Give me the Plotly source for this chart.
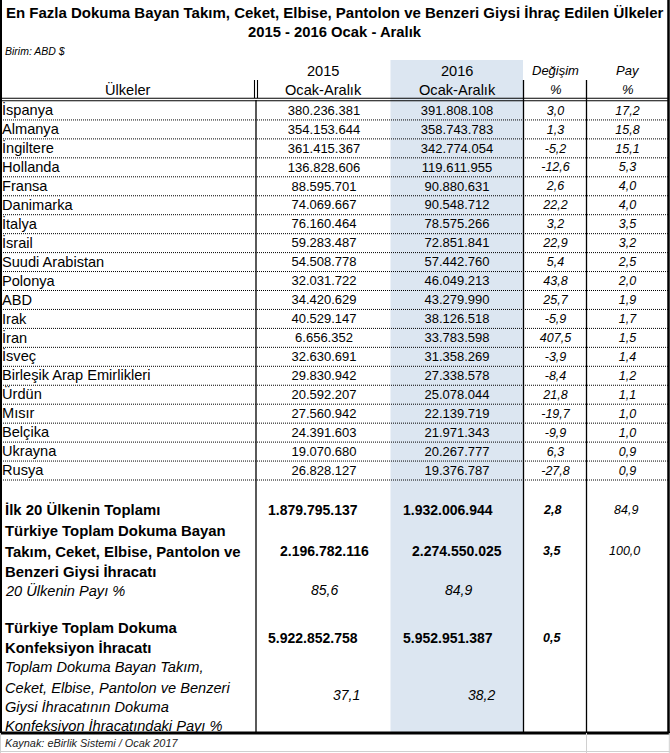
import plotly.graph_objects as go

# ---------------- data ----------------
title_line1 = "En Fazla Dokuma Bayan Takım, Ceket, Elbise, Pantolon ve Benzeri Giysi İhraç Edilen Ülkeler"
title_line2 = "2015 - 2016 Ocak - Aralık"
unit_note = "Birim: ABD $"
source_note = "Kaynak: eBirlik Sistemi / Ocak 2017"

countries = ["İspanya", "Almanya", "İngiltere", "Hollanda", "Fransa", "Danimarka", "İtalya",
             "İsrail", "Suudi Arabistan", "Polonya", "ABD", "Irak", "İran", "İsveç",
             "Birleşik Arap Emirlikleri", "Ürdün", "Mısır", "Belçika", "Ukrayna", "Rusya"]
exports_2015 = [380236381, 354153644, 361415367, 136828606, 88595701, 74069667, 76160464,
                59283487, 54508778, 32031722, 34420629, 40529147, 6656352, 32630691,
                29830942, 20592207, 27560942, 24391603, 19070680, 26828127]
exports_2016 = [391808108, 358743783, 342774054, 119611955, 90880631, 90548712, 78575266,
                72851841, 57442760, 46049213, 43279990, 38126518, 33783598, 31358269,
                27338578, 25078044, 22139719, 21971343, 20267777, 19376787]
change_pct = [3.0, 1.3, -5.2, -12.6, 2.6, 22.2, 3.2, 22.9, 5.4, 43.8,
              25.7, -5.9, 407.5, -3.9, -8.4, 21.8, -19.7, -9.9, 6.3, -27.8]
share_pct = [17.2, 15.8, 15.1, 5.3, 4.0, 4.0, 3.5, 3.2, 2.5, 2.0,
             1.9, 1.7, 1.5, 1.4, 1.2, 1.1, 1.0, 1.0, 0.9, 0.9]

header_cols = ["Ülkeler", "2015", "2016", "Değişim", "Pay"]
header_sub = ["", "Ocak-Aralık", "Ocak-Aralık", "%", "%"]

top20_label = "İlk 20 Ülkenin Toplamı"
top20_total = [1879795137, 1932006944]
top20_change = 2.8
top20_share = 84.9

women_label = ["Türkiye Toplam Dokuma Bayan", "Takım, Ceket, Elbise, Pantolon ve", "Benzeri Giysi İhracatı"]
women_total = [2196782116, 2274550025]
women_change = 3.5
women_share = 100.0

top20_ratio_label = "20 Ülkenin Payı %"
top20_ratio = [85.6, 84.9]

conf_label = ["Türkiye Toplam Dokuma", "Konfeksiyon İhracatı"]
conf_total = [5922852758, 5952951387]
conf_change = 0.5

ratio_label = ["Toplam Dokuma Bayan Takım,", "Ceket, Elbise, Pantolon ve Benzeri",
               "Giysi İhracatının Dokuma", "Konfeksiyon İhracatındaki Payı %"]
ratio_vals = [37.1, 38.2]


def fmt_int(v):
    return f"{v:,}".replace(",", ".")


def fmt_pct(v):
    return f"{v:.1f}".replace(".", ",")


# ---------------- layout geometry (pixel units) ----------------
W, H = 670, 753
FONT = "Liberation Sans, Arial, sans-serif"
ROW_TOP, ROW_H = 101.0, 18.95
X_NAME = 2
X_2015, X_2016, X_CHG, X_SHR = 324, 457, 555.5, 627.5
COL_LINES = [256, 523.5, 586.5]
SHADE = (390.5, 523)
TABLE_BOTTOM = 733

n = len(countries)
row_y = [ROW_TOP + ROW_H * (i + 0.5) + 1 for i in range(n)]

fig = go.Figure()

fig.add_trace(go.Scatter(x=[X_NAME] * n, y=row_y, mode="text", text=countries,
                         textposition="middle right",
                         textfont=dict(family=FONT, size=14.6, color="#000"), hoverinfo="skip"))
fig.add_trace(go.Scatter(x=[X_2015] * n, y=row_y, mode="text", text=[fmt_int(v) for v in exports_2015],
                         textposition="middle center",
                         textfont=dict(family=FONT, size=13, color="#000"), hoverinfo="skip"))
fig.add_trace(go.Scatter(x=[X_2016] * n, y=row_y, mode="text", text=[fmt_int(v) for v in exports_2016],
                         textposition="middle center",
                         textfont=dict(family=FONT, size=13, color="#000"), hoverinfo="skip"))
fig.add_trace(go.Scatter(x=[X_CHG] * n, y=row_y, mode="text", text=[f"<i>{fmt_pct(v)}</i>" for v in change_pct],
                         textposition="middle center",
                         textfont=dict(family=FONT, size=12.5, color="#000"), hoverinfo="skip"))
fig.add_trace(go.Scatter(x=[X_SHR] * n, y=row_y, mode="text", text=[f"<i>{fmt_pct(v)}</i>" for v in share_pct],
                         textposition="middle center",
                         textfont=dict(family=FONT, size=12.5, color="#000"), hoverinfo="skip"))

shapes = []
# shaded 2016 column
shapes.append(dict(type="rect", xref="x", yref="y", x0=SHADE[0], x1=SHADE[1], y0=60, y1=TABLE_BOTTOM,
                   fillcolor="#DCE6F1", line=dict(width=0), layer="below"))
# dotted row separators
for k in range(1, n + 1):
    y = ROW_TOP + ROW_H * k
    shapes.append(dict(type="line", xref="x", yref="y", x0=1, x1=668, y0=y, y1=y,
                       line=dict(color="#000", width=1, dash="1px,1px")))
# header bottom double line
for y in (98.2, 100.8):
    shapes.append(dict(type="line", xref="x", yref="y", x0=1, x1=668, y0=y, y1=y,
                       line=dict(color="#000", width=1.1)))
# header double vertical at name column
for x in (254.5, 257.5):
    shapes.append(dict(type="line", xref="x", yref="y", x0=x, x1=x, y0=80, y1=98,
                       line=dict(color="#000", width=1.1)))
shapes.append(dict(type="line", xref="x", yref="y", x0=256, x1=256, y0=100, y1=TABLE_BOTTOM,
                   line=dict(color="#000", width=1.3)))
for x in COL_LINES[1:]:
    shapes.append(dict(type="line", xref="x", yref="y", x0=x, x1=x, y0=80, y1=TABLE_BOTTOM,
                       line=dict(color="#000", width=1.3)))
# outer borders
shapes.append(dict(type="line", xref="x", yref="y", x0=1, x1=1, y0=0, y1=TABLE_BOTTOM,
                   line=dict(color="#000", width=2)))
shapes.append(dict(type="line", xref="x", yref="y", x0=668.5, x1=668.5, y0=0, y1=TABLE_BOTTOM,
                   line=dict(color="#000", width=2.5)))
shapes.append(dict(type="line", xref="x", yref="y", x0=0, x1=670, y0=TABLE_BOTTOM, y1=TABLE_BOTTOM,
                   line=dict(color="#000", width=3)))
# light grid below table
for x in (0.5, 586.5, 669.3):
    shapes.append(dict(type="line", xref="x", yref="y", x0=x, x1=x, y0=TABLE_BOTTOM, y1=753,
                       line=dict(color="#D0D0D0", width=1)))
shapes.append(dict(type="line", xref="x", yref="y", x0=0, x1=670, y0=751.5, y1=751.5,
                   line=dict(color="#D0D0D0", width=1)))

ann = []


def txt(x, y, s, size=14.4, anchor="center", color="#000"):
    ann.append(dict(x=x, y=y, xref="x", yref="y", text=s, showarrow=False, xanchor=anchor,
                    yanchor="middle", font=dict(family=FONT, size=size, color=color)))


# titles
txt(335, 12.5, f"<b>{title_line1}</b>", 15)
txt(335, 31.5, f"<b>{title_line2}</b>", 14.8)
txt(3, 51, f"<i>{unit_note}</i>", 10.5, "left")
# header
txt(128, 89.5, header_cols[0], 14.6)
txt(X_2015 - 1, 71, header_cols[1], 14.6)
txt(X_2015 - 1, 89.5, header_sub[1], 14.6)
txt(X_2016, 71, header_cols[2], 14.6)
txt(X_2016, 89.5, header_sub[2], 14.6)
txt(X_CHG, 70, f"<i>{header_cols[3]}</i>", 13)
txt(X_CHG, 89.5, f"<i>{header_sub[3]}</i>", 13)
txt(X_SHR, 70, f"<i>{header_cols[4]}</i>", 13)
txt(X_SHR, 89.5, f"<i>{header_sub[4]}</i>", 13)

# summary block
BL = 14.9
txt(3, 509.5, f"<b>{top20_label}</b>", BL, "left")
txt(313, 509.5, f"<b>{fmt_int(top20_total[0])}</b>", 14)
txt(448, 509.5, f"<b>{fmt_int(top20_total[1])}</b>", 14)
txt(552, 509.5, f"<b><i>{fmt_pct(top20_change)}</i></b>", 12.5)
txt(626, 509.5, f"<i>{fmt_pct(top20_share)}</i>", 12.5)

for yy, line in zip((531, 552, 571.5), women_label):
    txt(3, yy, f"<b>{line}</b>", BL, "left")
txt(324, 551, f"<b>{fmt_int(women_total[0])}</b>", 14)
txt(457, 551, f"<b>{fmt_int(women_total[1])}</b>", 14)
txt(552, 551, f"<b><i>{fmt_pct(women_change)}</i></b>", 12.5)
txt(624, 551, f"<i>{fmt_pct(women_share)}</i>", 12.5)

txt(3, 590, f"<i>{top20_ratio_label}</i>", 14.6, "left")
txt(324, 590, f"<i>{fmt_pct(top20_ratio[0])}</i>", 14)
txt(458, 590, f"<i>{fmt_pct(top20_ratio[1])}</i>", 14)

for yy, line in zip((628, 647.5), conf_label):
    txt(3, yy, f"<b>{line}</b>", BL, "left")
txt(313, 638, f"<b>{fmt_int(conf_total[0])}</b>", 14)
txt(448, 638, f"<b>{fmt_int(conf_total[1])}</b>", 14)
txt(552, 638, f"<b><i>{fmt_pct(conf_change)}</i></b>", 12.5)

for yy, line in zip((667, 687.5, 707, 726), ratio_label):
    txt(3, yy, f"<i>{line}</i>", 14.6, "left")
txt(346, 695, f"<i>{fmt_pct(ratio_vals[0])}</i>", 14)
txt(481, 695, f"<i>{fmt_pct(ratio_vals[1])}</i>", 14)

txt(3, 743, f"<i>{source_note}</i>", 10.9, "left", "#222")

fig.update_layout(
    width=W, height=H, margin=dict(l=0, r=0, t=0, b=0),
    paper_bgcolor="white", plot_bgcolor="white", showlegend=False,
    xaxis=dict(range=[0, W], visible=False, fixedrange=True),
    yaxis=dict(range=[H, 0], visible=False, fixedrange=True),
    shapes=shapes, annotations=ann,
)

fig.write_html("out.html", config={"displayModeBar": False},
               post_script="document.body.style.margin='0px';")
